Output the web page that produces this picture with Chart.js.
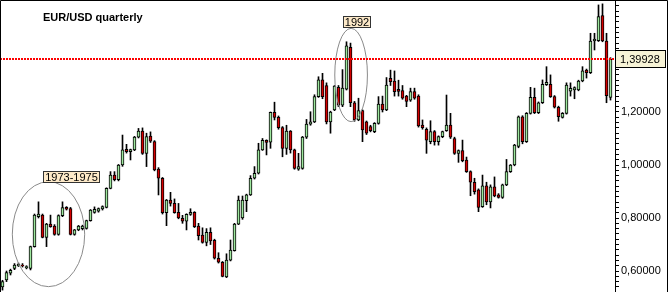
<!DOCTYPE html>
<html lang="en">
<head>
<meta charset="UTF-8">
<title>EUR/USD quarterly</title>
<script src="https://cdn.jsdelivr.net/npm/chart.js"></script>
<style>
  html, body { margin: 0; padding: 0; background: #fff; }
  #wrap { width: 668px; height: 292px; position: relative; }
</style>
</head>
<body>
<div id="wrap"><canvas id="chart" width="668" height="292"></canvas></div>
<script>
// quarterly candles, oldest first
const opens = [
  .540,.566,.592,.610,.620,.622,.612,.610,.692,.805,
  .811,.727,.777,.770,.738,.809,.840,.836,.738,.755,
  .760,.761,.790,.821,.826,.834,.840,.912,.962,.945,
  1.000,1.059,1.050,1.057,1.105,1.128,1.044,1.109,1.088,.985,
  .950,.820,.868,.855,.821,.799,.788,.814,.821,.770,
  .736,.708,.746,.716,.648,.633,.578,.641,.677,.777,
  .800,.865,.887,.950,.969,1.057,1.093,1.086,1.199,1.180,
  1.141,1.063,1.128,1.057,.984,.987,1.105,1.154,1.163,1.258,
  1.321,1.300,1.163,1.208,1.293,1.226,1.286,1.444,1.235,1.170,
  1.205,1.163,1.145,1.126,1.157,1.230,1.208,1.327,1.317,1.286,
  1.281,1.260,1.245,1.277,1.260,1.151,1.135,1.088,1.126,1.088,
  1.107,1.130,1.151,1.100,1.044,1.054,1.019,.975,.935,.906,
  .843,.921,.861,.918,.887,.878,.925,.975,1.000,1.070,
  1.182,1.088,1.195,1.255,1.197,1.235,1.303,1.304,1.258,1.218,
  1.180,1.195,1.279,1.283,1.283,1.317,1.358,1.348,1.468,1.469,
  1.564,1.468,1.255
];
const highs = [
  .565,.600,.607,.628,.630,.628,.620,.694,.815,.861,
  .815,.780,.811,.775,.812,.861,.843,.840,.757,.772,
  .773,.792,.832,.842,.838,.846,.914,.975,.975,1.002,
  1.113,1.078,1.060,1.108,1.138,1.140,1.120,1.125,1.092,.990,
  .953,.870,.897,.872,.855,.810,.816,.835,.824,.780,
  .763,.760,.763,.720,.669,.636,.665,.717,.780,.883,
  .883,.890,.960,.994,1.082,1.100,1.095,1.200,1.237,1.185,
  1.145,1.150,1.130,1.060,1.044,1.108,1.172,1.201,1.265,1.333,
  1.346,1.310,1.203,1.300,1.300,1.360,1.465,1.460,1.240,1.252,
  1.208,1.166,1.150,1.160,1.258,1.260,1.330,1.358,1.355,1.320,
  1.300,1.263,1.290,1.290,1.265,1.170,1.140,1.167,1.130,1.110,
  1.128,1.264,1.195,1.105,1.057,1.094,1.030,.978,.950,.910,
  .962,.935,.925,.955,.892,.928,1.021,1.002,1.078,1.185,
  1.186,1.198,1.293,1.290,1.238,1.321,1.371,1.340,1.262,1.222,
  1.198,1.310,1.310,1.295,1.320,1.371,1.362,1.497,1.497,1.604,
  1.608,1.497,1.405
];
const lows = [
  .528,.560,.585,.605,.617,.615,.608,.604,.690,.800,
  .725,.692,.765,.735,.735,.805,.830,.736,.735,.752,
  .755,.758,.788,.818,.822,.830,.838,.910,.940,.940,
  .995,1.045,1.019,1.054,1.102,1.040,.994,1.085,.978,.887,
  .815,.771,.845,.818,.797,.780,.755,.810,.764,.717,
  .705,.695,.700,.645,.630,.578,.575,.638,.675,.775,
  .795,.824,.885,.947,.966,1.055,1.038,1.063,1.170,1.135,
  1.031,1.040,1.045,.984,.980,.984,1.100,1.150,1.160,1.255,
  1.250,1.155,1.120,1.205,1.220,1.220,1.283,1.220,1.165,1.167,
  1.088,1.115,1.125,1.122,1.154,1.200,1.205,1.300,1.260,1.260,
  1.248,1.220,1.240,1.248,1.143,1.135,1.044,1.080,1.075,1.075,
  1.103,1.127,1.100,1.040,1.010,1.012,.972,.884,.890,.824,
  .840,.850,.838,.880,.875,.874,.922,.972,.997,1.065,
  1.080,1.085,1.192,1.194,1.194,1.232,1.300,1.255,1.215,1.165,
  1.177,1.192,1.260,1.250,1.280,1.314,1.328,1.345,1.434,1.466,
  1.465,1.235,1.245
];
const closes = [
  .560,.594,.603,.622,.625,.619,.617,.692,.811,.815,
  .727,.777,.767,.738,.809,.839,.833,.738,.755,.770,
  .770,.790,.830,.833,.836,.843,.912,.962,.945,1.000,
  1.057,1.050,1.058,1.105,1.128,1.044,1.107,1.090,.981,.950,
  .820,.868,.855,.820,.800,.788,.814,.821,.767,.733,
  .708,.746,.714,.648,.633,.580,.641,.679,.777,.868,
  .868,.887,.950,.969,1.057,1.093,1.085,1.199,1.180,1.141,
  1.063,1.128,1.057,.987,.994,1.105,1.154,1.163,1.258,1.321,
  1.258,1.163,1.200,1.298,1.226,1.290,1.450,1.235,1.170,1.205,
  1.132,1.120,1.130,1.157,1.230,1.208,1.302,1.314,1.277,1.278,
  1.252,1.240,1.277,1.252,1.147,1.141,1.094,1.126,1.088,1.107,
  1.126,1.151,1.105,1.044,1.054,1.016,.975,.935,.899,.840,
  .921,.861,.918,.883,.878,.925,.975,1.000,1.075,1.182,
  1.088,1.195,1.255,1.197,1.235,1.304,1.312,1.258,1.218,1.182,
  1.195,1.302,1.289,1.292,1.317,1.355,1.348,1.468,1.475,1.560,
  1.468,1.262,1.399
];

const lastPrice = 1.39928;
const yMin = 0.5208, yMax = 1.6226;
const yLabelValues = [0.6, 0.8, 1.0, 1.2];
const yTickStep = 0.02;

// annotations: ellipses and tags, in data units (candle index / price)
const ellipses = [
  { x: 11.5, y: 0.739, rx: 9.05, ry: 0.198 },
  { x: 87.15, y: 1.3396, rx: 4.08, ry: 0.176 }
];
const tags = [
  { text: '1973-1975', x: 17.3, y: 0.953 },
  { text: '1992', x: 88.6, y: 1.540 }
];

const UP = '#9ee79e', DOWN = '#d40000';
const fmt = v => v.toFixed(5).replace('.', ',');

const bodies = opens.map((o, i) => ({ x: i, y: [o, closes[i]] }));
const wicks = opens.map((o, i) => ({ x: i, y: [lows[i], highs[i]] }));

const tickValues = [];
for (let k = Math.ceil(yMin / yTickStep); k * yTickStep <= yMax; k++) tickValues.push(+(k * yTickStep).toFixed(4));

const decor = {
  id: 'decor',
  afterDatasetsDraw(chart) {
    const { ctx, chartArea: a, scales: { x, y } } = chart;
    ctx.save();

    // ellipses
    ctx.strokeStyle = '#8a8a8a';
    ctx.lineWidth = 1;
    ellipses.forEach(e => {
      const cx = x.getPixelForValue(e.x), cy = y.getPixelForValue(e.y);
      const rx = Math.abs(x.getPixelForValue(e.x + e.rx) - cx);
      const ry = Math.abs(y.getPixelForValue(e.y + e.ry) - cy);
      ctx.beginPath();
      ctx.ellipse(cx, cy, rx, ry, 0, 0, Math.PI * 2);
      ctx.stroke();
    });

    // last price dotted line
    const py = Math.round(y.getPixelForValue(lastPrice));
    ctx.strokeStyle = '#ff0000';
    ctx.lineWidth = 2;
    ctx.setLineDash([2, 1]);
    ctx.beginPath();
    ctx.moveTo(a.left, py);
    ctx.lineTo(a.right, py);
    ctx.stroke();
    ctx.setLineDash([]);

    ctx.font = '11px "Liberation Sans", Arial, sans-serif';
    ctx.textBaseline = 'middle';

    // tags
    tags.forEach(t => {
      const cx = x.getPixelForValue(t.x), cy = Math.round(y.getPixelForValue(t.y));
      const w = Math.round(ctx.measureText(t.text).width) + 4;
      const bx = Math.round(cx - w / 2);
      ctx.fillStyle = '#fde9c8';
      ctx.fillRect(bx, cy - 6, w, 12);
      ctx.strokeStyle = '#333';
      ctx.lineWidth = 1;
      ctx.strokeRect(bx + 0.5, cy - 5.5, w - 1, 11);
      ctx.fillStyle = '#000';
      ctx.textAlign = 'center';
      ctx.fillText(t.text, bx + w / 2, cy + 0.5);
    });

    // price box on the axis
    ctx.fillStyle = '#f7f3d6';
    ctx.fillRect(a.right, py - 9, 51, 18);
    ctx.strokeStyle = '#000';
    ctx.strokeRect(a.right + 0.5, py - 8.5, 50, 17);
    ctx.fillStyle = '#000';
    ctx.textAlign = 'left';
    ctx.fillText(fmt(lastPrice), a.right + 5, py + 0.5);

    // title
    ctx.font = 'bold 11px "Liberation Sans", Arial, sans-serif';
    ctx.textBaseline = 'alphabetic';
    ctx.fillText('EUR/USD quarterly', 43, 21);

    // frame
    ctx.strokeStyle = '#000';
    ctx.lineWidth = 1;
    ctx.beginPath();
    ctx.moveTo(0.5, chart.height);
    ctx.lineTo(0.5, 0.5);
    ctx.lineTo(chart.width - 0.5, 0.5);
    ctx.lineTo(chart.width - 0.5, chart.height);
    ctx.stroke();
    ctx.restore();
  }
};

new Chart(document.getElementById('chart'), {
  type: 'bar',
  data: {
    datasets: [
      {
        label: 'body',
        data: bodies,
        barThickness: 3,
        borderWidth: 1,
        borderSkipped: false,
        borderColor: '#000',
        backgroundColor: bodies.map((b, i) => closes[i] >= opens[i] ? UP : DOWN)
      },
      {
        label: 'wick',
        data: wicks,
        barThickness: 1,
        borderWidth: 0,
        backgroundColor: '#000'
      }
    ]
  },
  options: {
    responsive: false,
    devicePixelRatio: 1,
    animation: false,
    layout: { padding: 0 },
    datasets: { bar: { grouped: false } },
    plugins: { legend: { display: false }, tooltip: { enabled: false } },
    scales: {
      x: {
        type: 'linear',
        display: false,
        offset: false,
        min: -0.625,
        max: 153.125
      },
      y: {
        type: 'linear',
        position: 'right',
        min: yMin,
        max: yMax,
        afterBuildTicks(scale) { scale.ticks = tickValues.map(v => ({ value: v })); },
        afterFit(scale) { scale.width = 53; scale.paddingTop = 0; scale.paddingBottom = 0; },
        grid: { drawOnChartArea: false, drawTicks: true, tickLength: 4, tickColor: '#000', tickWidth: 1 },
        border: { display: true, color: '#000', width: 1 },
        ticks: {
          autoSkip: false,
          padding: 2,
          color: '#000',
          font: { family: '"Liberation Sans", Arial, sans-serif', size: 11 },
          callback: v => yLabelValues.some(l => Math.abs(l - v) < 1e-6) ? fmt(v) : ''
        }
      }
    }
  },
  plugins: [decor]
});
</script>
</body>
</html>
